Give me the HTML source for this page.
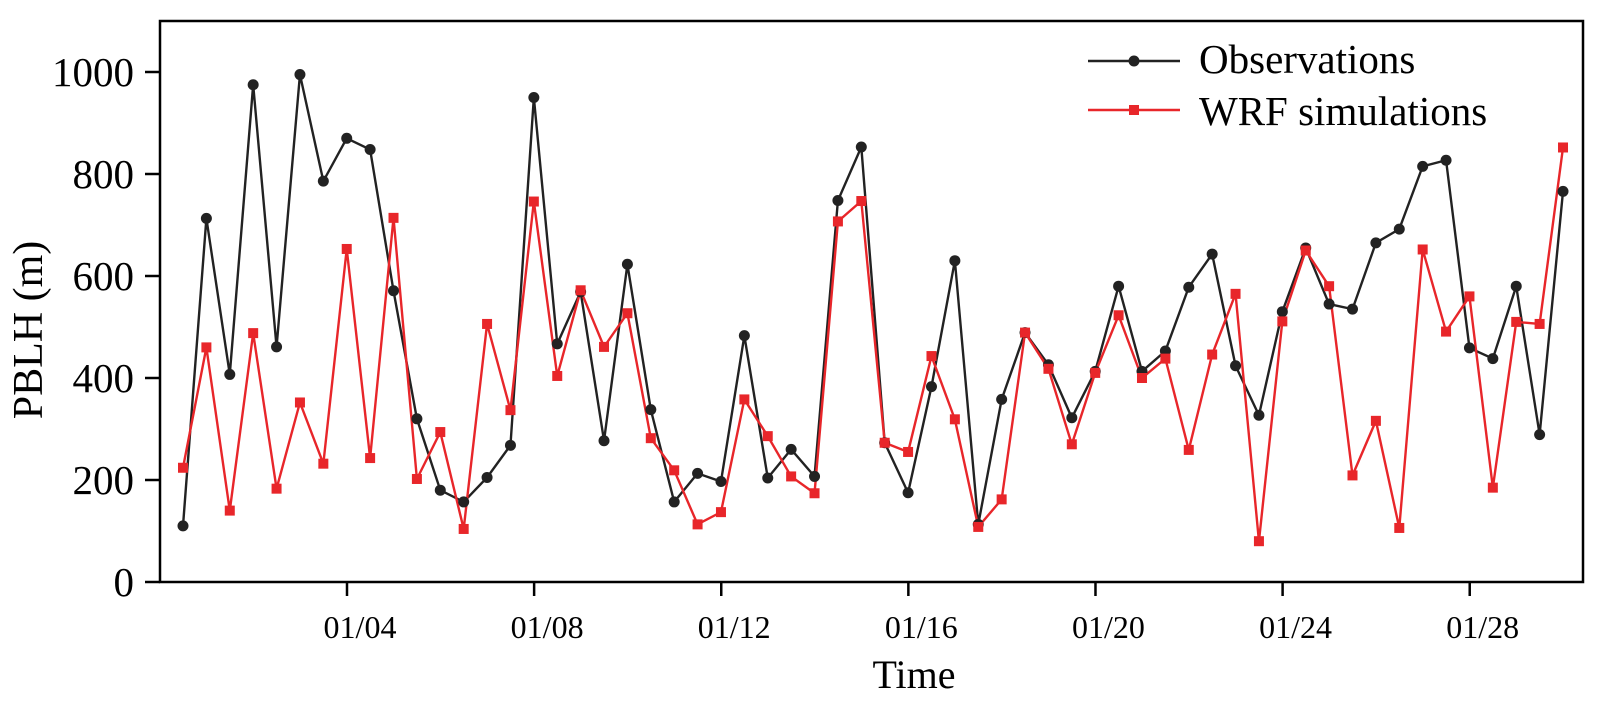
<!DOCTYPE html>
<html><head><meta charset="utf-8"><style>
html,body{margin:0;padding:0;background:#fff;}
svg{display:block;font-family:"Liberation Serif",serif;}
</style></head><body>
<svg width="1604" height="704" viewBox="0 0 1604 704" xmlns="http://www.w3.org/2000/svg">
<rect width="1604" height="704" fill="#fff"/>
<rect x="160" y="21" width="1423" height="561" fill="none" stroke="#000" stroke-width="2.5"/>
<g stroke="#000" stroke-width="2.5" id="ticks"></g>
<g font-size="41" text-anchor="end" fill="#000" id="ylab"></g>
<g font-size="32" text-anchor="middle" fill="#000" id="xlab"></g>
<text x="42" y="330" font-size="42" text-anchor="middle" transform="rotate(-90 42 330)">PBLH (m)</text>
<text x="914" y="688" font-size="40" text-anchor="middle">Time</text>
<g id="series"></g>
<line x1="1088" y1="61" x2="1180" y2="61" stroke="#222" stroke-width="2.4"/>
<circle cx="1134" cy="61" r="5.5" fill="#222"/>
<text x="1199" y="73" font-size="41">Observations</text>
<line x1="1088" y1="110" x2="1180" y2="110" stroke="#e8262a" stroke-width="2.4"/>
<rect x="1129" y="105" width="10" height="10" fill="#e8262a"/>
<text x="1199" y="125" font-size="41">WRF simulations</text>
</svg>
<script>
var NS="http://www.w3.org/2000/svg";
function el(t,a,p,txt){var e=document.createElementNS(NS,t);for(var k in a)e.setAttribute(k,a[k]);if(txt!==undefined)e.textContent=txt;document.getElementById(p).appendChild(e);return e;}
function Y(v){return 582-v*0.51;}
for(var v=0;v<=1000;v+=200){var y=Y(v);el('line',{x1:160,x2:145,y1:y,y2:y},'ticks');el('text',{x:134,y:y+14},'ylab',String(v));}
var labs=['01/04','01/08','01/12','01/16','01/20','01/24','01/28'];
for(var k=0;k<7;k++){var x=347+k*4*46.78;el('line',{x1:x,x2:x,y1:582,y2:596},'ticks');el('text',{x:x+13,y:638},'xlab',labs[k]);}
var obs=[110,713,407,975,461,995,786,870,848,571,320,180,157,205,268,950,467,569,277,623,338,157,213,197,483,204,260,207,748,853,273,175,383,630,113,358,489,426,322,413,580,413,453,578,643,424,327,530,655,545,535,665,692,815,827,459,438,580,289,766];
var wrf=[224,460,140,488,183,352,232,653,243,714,202,294,104,506,337,746,404,572,461,527,282,219,113,137,358,286,207,174,707,747,273,255,443,319,108,162,489,418,270,410,523,400,438,259,446,565,80,511,650,580,209,316,106,652,491,560,185,510,506,852];
function X(i){return 183+23.39*i;}
function poly(d,c){var p=d.map(function(v,i){return X(i)+','+Y(v)}).join(' ');el('polyline',{points:p,fill:'none',stroke:c,'stroke-width':2.4,'stroke-linejoin':'miter'},'series');}
poly(obs,'#222');poly(wrf,'#e8262a');
obs.forEach(function(v,i){el('circle',{cx:X(i),cy:Y(v),r:5.5,fill:'#222'},'series');});
wrf.forEach(function(v,i){el('rect',{x:X(i)-5,y:Y(v)-5,width:10,height:10,fill:'#e8262a'},'series');});
</script>
</body></html>
